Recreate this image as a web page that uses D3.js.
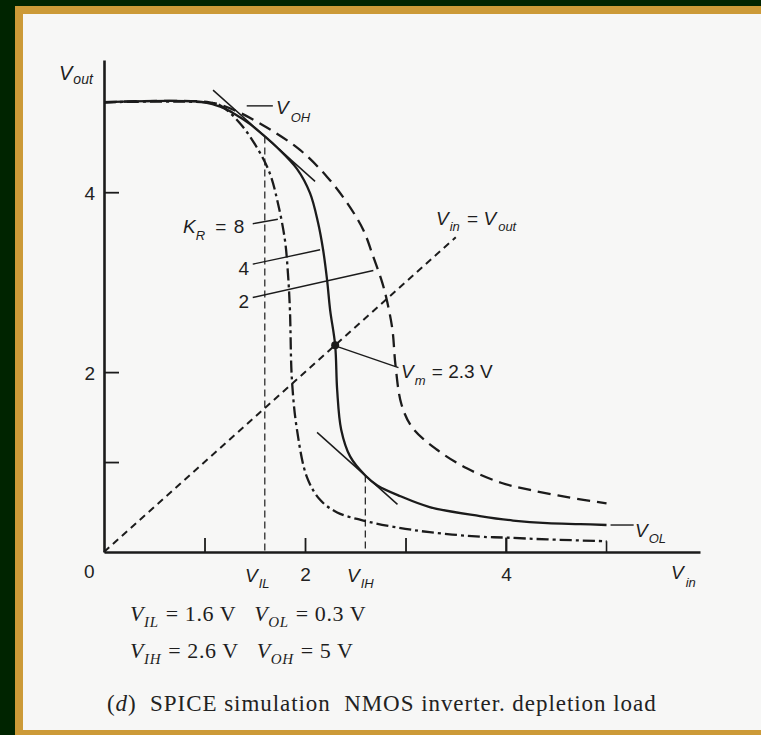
<!DOCTYPE html>
<html>
<head>
<meta charset="utf-8">
<script src="https://cdn.jsdelivr.net/npm/d3@7/dist/d3.min.js"></script>
<style>
  html, body { margin: 0; padding: 0; background: #f7f7f6; overflow: hidden; }
  svg { display: block; }
  text { white-space: pre; }
</style>
</head>
<body>
<svg id="chart" width="761" height="735"></svg>
<script>
// Transfer curves of an NMOS inverter with depletion load (SPICE), Vout vs Vin
const curveKR8 = [[0,5],[1.0,5],[1.15,4.97],[1.35,4.77],[1.52,4.5],[1.65,4.21],[1.73,3.88],[1.8,3.47],
  [1.83,3.1],[1.85,2.69],[1.87,1.91],[1.92,1.36],[2.02,0.83],[2.15,0.58],[2.32,0.44],[2.58,0.35],
  [2.88,0.28],[3.24,0.22],[3.74,0.17],[4.0,0.16],[4.41,0.14],[5.0,0.12]];
const curveKR4 = [[0,5],[1.0,5],[1.18,4.94],[1.3,4.87],[1.45,4.76],[1.6,4.62],[1.72,4.5],[1.92,4.26],
  [2.05,3.99],[2.13,3.66],[2.18,3.36],[2.22,3.02],[2.25,2.69],[2.3,2.3],[2.32,1.8],[2.36,1.36],
  [2.45,1.06],[2.6,0.85],[2.72,0.74],[2.95,0.62],[3.24,0.5],[3.74,0.4],[4.07,0.35],[4.41,0.32],
  [4.74,0.31],[5.0,0.3]];
const curveKR2 = [[0,5],[1.05,5],[1.28,4.92],[1.62,4.72],[1.95,4.47],[2.22,4.17],[2.42,3.88],[2.58,3.58],
  [2.68,3.28],[2.77,2.99],[2.82,2.77],[2.87,2.47],[2.9,2.08],[2.96,1.64],[3.07,1.38],[3.31,1.14],
  [3.61,0.93],[3.95,0.77],[4.24,0.69],[4.61,0.61],[5.0,0.54]];

// Characteristic values
const VIL = 1.6, VIH = 2.6, VOL = 0.3, VOH = 5, VM = 2.3;
const VIL_out = 4.62, VIH_out = 0.85;

// Axis ticks
const xTicks = [1, 2, 3, 4];
const yTicks = [1, 2, 4];
const xTickText = {2: "2", 4: "4"};
const yTickText = {2: "2", 4: "4"};

const svg = d3.select("#chart");
const W = 761, H = 735;

// frame: dark green outside, gold band, paper inside
svg.append("rect").attr("x", 0).attr("y", 0).attr("width", W).attr("height", H).attr("fill", "#002400");
svg.append("rect").attr("x", 15).attr("y", 6).attr("width", W + 40).attr("height", H).attr("fill", "#cc9a38");
svg.append("rect").attr("x", 23).attr("y", 14).attr("width", W + 40).attr("height", 716).attr("fill", "#f7f7f6");

const ink = "#1b1b1b";
const x = d3.scaleLinear().domain([0, 5.93]).range([104, 700]);
const y = d3.scaleLinear().domain([0, 5.47]).range([552, 60]);

const sans = "'Liberation Sans', Arial, sans-serif";
const serif = "'Liberation Serif', 'Times New Roman', serif";

// axes
const xAxis = d3.axisBottom(x).tickValues(xTicks).tickSizeInner(-14).tickSizeOuter(0)
  .tickPadding(16).tickFormat(d => xTickText[d] || "");
const yAxis = d3.axisLeft(y).tickValues(yTicks).tickSizeInner(-15).tickSizeOuter(0)
  .tickPadding(9).tickFormat(d => yTickText[d] || "");

const gx = svg.append("g").attr("transform", `translate(0,${y(0)})`).call(xAxis);
const gy = svg.append("g").attr("transform", `translate(${x(0)},0)`).call(yAxis);
[gx, gy].forEach(g => {
  g.select(".domain").attr("stroke", ink).attr("stroke-width", 2.6);
  g.selectAll(".tick line").attr("stroke", ink).attr("stroke-width", 1.8);
  g.selectAll(".tick text").attr("fill", "#222").attr("font-family", sans).attr("font-size", 19);
});
gy.selectAll(".tick text").attr("dy", "0.38em");

const line = d3.line().x(d => x(d[0])).y(d => y(d[1])).curve(d3.curveCatmullRom.alpha(0.5));
const seg = (a, b) => svg.append("line")
  .attr("x1", x(a[0])).attr("y1", y(a[1])).attr("x2", x(b[0])).attr("y2", y(b[1]))
  .attr("stroke", ink).attr("fill", "none");

// Vin = Vout reference line
seg([0, 0], [3.5, 3.5]).attr("stroke-width", 2).attr("stroke-dasharray", "7 5");

// VIL / VIH markers
seg([VIL, VIL_out], [VIL, 0]).attr("stroke-width", 1.2).attr("stroke-dasharray", "7 4");
seg([VIH, VIH_out], [VIH, 0]).attr("stroke-width", 1.2).attr("stroke-dasharray", "7 4");

// unity-gain tangents (slope -1)
seg([VIL - 0.515, VIL_out + 0.515], [VIL + 0.5, VIL_out - 0.5]).attr("stroke-width", 1.5);
seg([VIH - 0.48, VIH_out + 0.48], [VIH + 0.32, VIH_out - 0.32]).attr("stroke-width", 1.5);

// curves
svg.append("path").datum(curveKR2).attr("d", line).attr("fill", "none").attr("stroke", ink)
  .attr("stroke-width", 2.3).attr("stroke-dasharray", "13 7");
svg.append("path").datum(curveKR8).attr("d", line).attr("fill", "none").attr("stroke", ink)
  .attr("stroke-width", 2.3).attr("stroke-dasharray", "12 4 3 4");
svg.append("path").datum(curveKR4).attr("d", line).attr("fill", "none").attr("stroke", ink)
  .attr("stroke-width", 2.3);

// plotter end marks of the K_R = 8 trace
seg([4, 0], [4, 0.16]).attr("stroke-width", 1.6);
seg([5, 0.12], [5, 0]).attr("stroke-width", 1.6);

// switching point
svg.append("circle").attr("cx", x(VM)).attr("cy", y(VM)).attr("r", 4).attr("fill", ink);

// leader lines
const lead = (a, b) => seg(a, b).attr("stroke-width", 1.4);
lead([1.42, 4.96], [1.68, 4.96]);          // V_OH
lead([1.48, 3.65], [1.73, 3.7]);           // K_R = 8
lead([1.48, 3.2], [2.15, 3.36]);           // 4
lead([1.48, 2.83], [2.68, 3.13]);          // 2
lead([2.33, 2.28], [2.93, 2.05]);          // V_m
lead([5.04, VOL], [5.27, VOL]);            // V_OL

// text with subscripts
function label(px, py, parts, opt = {}) {
  const size = opt.size || 19, sub = opt.sub || Math.round(size * 0.7), shift = opt.shift || 6;
  const t = svg.append("text").attr("x", px).attr("y", py)
    .attr("font-family", opt.family || sans).attr("font-size", size).attr("fill", "#1e1e1e")
    .attr("text-anchor", opt.anchor || "start");
  if (opt.spacing) t.attr("letter-spacing", opt.spacing);
  let low = false;
  parts.forEach(p => {
    const s = t.append("tspan").text(p.t);
    if (p.i) s.attr("font-style", "italic");
    if (p.s) {
      s.attr("font-size", sub);
      if (!low) s.attr("dy", shift);
      low = true;
    } else if (low) {
      s.attr("dy", -shift);
      low = false;
    }
    if (p.dx) s.attr("dx", p.dx);
  });
  return t;
}

label(59, 80, [{t: "V", i: 1}, {t: "out", i: 1, s: 1, dx: 1}], {size: 20, shift: 4});
label(84, 578, [{t: "0"}]);
label(245, 582, [{t: "V", i: 1}, {t: "IL", i: 1, s: 1, dx: 1}], {shift: 6});
label(347, 582, [{t: "V", i: 1}, {t: "IH", i: 1, s: 1, dx: 1}], {shift: 6});
label(671, 579, [{t: "V", i: 1}, {t: "in", i: 1, s: 1, dx: 2}], {shift: 8});

label(276, 114, [{t: "V", i: 1}, {t: "OH", i: 1, s: 1, dx: 2}], {shift: 8});
label(183, 233, [{t: "K", i: 1}, {t: "R", i: 1, s: 1}, {t: " = ", dx: 5}, {t: "8", dx: 2}], {shift: 7});
label(249, 275, [{t: "4"}], {anchor: "end"});
label(249, 308, [{t: "2"}], {anchor: "end"});
label(436, 225, [{t: "V", i: 1}, {t: "in", i: 1, s: 1, dx: 1}, {t: " = ", dx: 2}, {t: "V", i: 1},
  {t: "out", i: 1, s: 1, dx: 2}], {shift: 6});
label(401, 378, [{t: "V", i: 1}, {t: "m", i: 1, s: 1, dx: 1}, {t: " = 2.3 V", dx: 1}], {shift: 7});
label(635, 537, [{t: "V", i: 1}, {t: "OL", i: 1, s: 1, dx: 1}], {shift: 6});

// summary of the characteristic values
const capS = {family: serif, size: 22, sub: 15, shift: 6, spacing: 0.6};
label(130, 621, [{t: "V", i: 1}, {t: "IL", i: 1, s: 1}, {t: " = 1.6 V   ", dx: 1}, {t: "V", i: 1},
  {t: "OL", i: 1, s: 1}, {t: " = 0.3 V", dx: 1}], capS);
label(130, 658, [{t: "V", i: 1}, {t: "IH", i: 1, s: 1}, {t: " = 2.6 V   ", dx: 1}, {t: "V", i: 1},
  {t: "OH", i: 1, s: 1}, {t: " = 5 V", dx: 1}], capS);

// figure caption
const cap = svg.append("text").attr("x", 107).attr("y", 711).attr("font-family", serif)
  .attr("font-size", 23).attr("letter-spacing", 0.95).attr("fill", "#222");
cap.append("tspan").text("(");
cap.append("tspan").text("d").attr("font-style", "italic");
cap.append("tspan").text(")  SPICE simulation  NMOS inverter. depletion load");
</script>
</body>
</html>
